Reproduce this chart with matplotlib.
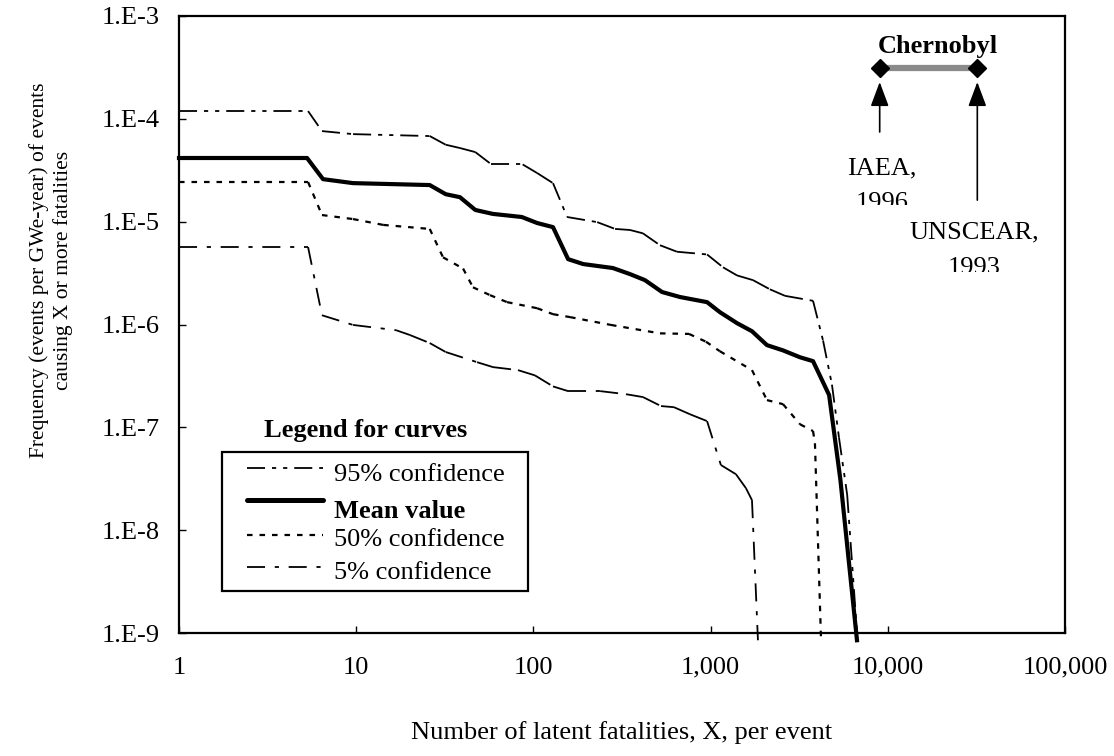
import numpy as np
import matplotlib
matplotlib.use("Agg")
import matplotlib.pyplot as plt
from matplotlib.collections import LineCollection
from matplotlib.lines import Line2D
from matplotlib.patches import Rectangle
from matplotlib.transforms import Bbox, TransformedBbox
from matplotlib.ticker import NullLocator

plt.rcParams['font.family'] = ['Liberation Serif', 'DejaVu Serif']
plt.rcParams['lines.scale_dashes'] = False

# curves: X (fatalities) and frequency per GWe-year
x95 = [1, 5.35, 6.41, 9.6, 26, 32, 38.5, 47, 58, 87, 105, 129, 155, 229, 289, 351,
       415, 518, 646, 955, 1175, 1410, 1735, 2160, 2630, 3785, 4310, 4840, 5300,
       5900, 6750]
y95 = [1.19e-4, 1.19e-4, 7.6e-5, 7.1e-5, 6.8e-5, 5.6e-5, 5.2e-5, 4.75e-5, 3.6e-5,
       3.6e-5, 2.97e-5, 2.37e-5, 1.11e-5, 9.9e-6, 8.5e-6, 8.3e-6, 7.7e-6, 5.9e-6,
       5.1e-6, 4.8e-6, 3.6e-6, 3.0e-6, 2.7e-6, 2.2e-6, 1.9e-6, 1.7e-6, 7.0e-7,
       2.6e-7, 8.0e-8, 2.2e-8, 8.5e-10]

xm = [1, 5.28, 6.5, 9.6, 26, 32, 38.5, 47, 59, 86, 105, 129, 157, 191, 281, 351,
      426, 532, 672, 955, 1127, 1410, 1712, 2080, 2563, 3197, 3785, 4665, 5400, 6700]
ym = [4.16e-5, 4.16e-5, 2.59e-5, 2.37e-5, 2.27e-5, 1.85e-5, 1.73e-5, 1.30e-5,
      1.19e-5, 1.11e-5, 9.7e-6, 8.85e-6, 4.32e-6, 3.87e-6, 3.54e-6, 3.09e-6,
      2.70e-6, 2.07e-6, 1.85e-6, 1.65e-6, 1.32e-6, 1.03e-6, 8.6e-7, 6.3e-7,
      5.6e-7, 4.8e-7, 4.4e-7, 2.06e-7, 3.1e-8, 8.5e-10]

x50 = [1, 5.35, 6.41, 9.6, 14.2, 26, 30.9, 40.1, 45.6, 56.9, 71, 105, 129, 161,
       274, 518, 755, 942, 1127, 1712, 2080, 2563, 3197, 3785, 3880, 4200]
y50 = [2.43e-5, 2.43e-5, 1.16e-5, 1.06e-5, 9.3e-6, 8.5e-6, 4.5e-6, 3.5e-6, 2.3e-6,
       1.93e-6, 1.65e-6, 1.44e-6, 1.26e-6, 1.18e-6, 9.9e-7, 8.2e-7, 8.1e-7, 6.8e-7,
       5.5e-7, 3.6e-7, 1.84e-7, 1.68e-7, 1.07e-7, 9.2e-8, 7.0e-8, 8.5e-10]

x05 = [1, 5.35, 6.41, 9.6, 16.8, 20.1, 26, 32, 48.1, 59.2, 81.9, 102, 129, 157,
       238, 333, 415, 525, 621, 765, 955, 1143, 1390, 1583, 1712, 1850]
y05 = [5.66e-6, 5.66e-6, 1.23e-6, 9.9e-7, 8.8e-7, 7.9e-7, 6.6e-7, 5.4e-7, 4.3e-7,
       3.85e-7, 3.6e-7, 3.2e-7, 2.5e-7, 2.25e-7, 2.25e-7, 2.1e-7, 1.97e-7, 1.61e-7,
       1.57e-7, 1.34e-7, 1.15e-7, 4.3e-8, 3.5e-8, 2.56e-8, 1.96e-8, 8.5e-10]

# Chernobyl estimates (IAEA 1996, UNSCEAR 1993)
chern_x = [9000, 32000]
chern_y = [3.1e-4, 3.1e-4]
arrow_tip = 2.28e-4
arrow_tails = [7.45e-5, 1.62e-5]

xticks = [1, 10, 100, 1e3, 1e4, 1e5]
xlabels = ['1', '10', '100', '1,000', '10,000', '100,000']
yticks = [1e-9, 1e-8, 1e-7, 1e-6, 1e-5, 1e-4, 1e-3]
ylabels = ['1.E-9', '1.E-8', '1.E-7', '1.E-6', '1.E-5', '1.E-4', '1.E-3']

W, H = 1114, 756
fig = plt.figure(figsize=(W / 100, H / 100), dpi=100)
ax = fig.add_axes([179 / W, 1 - 633 / H, 886 / W, 617 / H])
ax.set_xscale('log')
ax.set_yscale('log')
ax.set_xlim(1, 1e5)
ax.set_ylim(1e-9, 1e-3)

ax.set_xticks(xticks)
ax.set_xticklabels(xlabels)
ax.set_yticks(yticks)
ax.set_yticklabels(ylabels)
ax.xaxis.set_minor_locator(NullLocator())
ax.yaxis.set_minor_locator(NullLocator())
ax.tick_params(axis='x', direction='in', length=5, width=1, pad=17, labelsize=19)
ax.tick_params(axis='y', direction='in', length=5, width=1, pad=14, labelsize=19)
for s in ax.spines.values():
    s.set_linewidth(1.6)

sty95 = (0, (13, 5, 3, 5, 3, 5))
sty05 = (0, (13, 7, 3, 7))
sty50 = (0, (4, 5))


def seg_curve(x, y, ls, lw):
    # dash pattern restarts on every segment, like the original drawing
    pts = np.column_stack([x, y])
    segs = np.stack([pts[:-1], pts[1:]], axis=1)
    lc = LineCollection(segs, colors='black', linewidths=lw, linestyles=ls,
                        capstyle='butt', clip_on=False, zorder=3)
    ax.add_collection(lc)


seg_curve(x95, y95, sty95, 1.3)
seg_curve(x50, y50, sty50, 1.6)
seg_curve(x05, y05, sty05, 1.3)
ax.plot(xm, ym, color='black', lw=3.0, solid_joinstyle='round', clip_on=False, zorder=4)

# Chernobyl marker bar and arrows
ax.plot(chern_x, chern_y, color='#8a8a8a', lw=4.5, zorder=4)
ax.plot(chern_x, chern_y, 'D', color='black', ms=9, zorder=5)
for cx, tail in zip(chern_x, arrow_tails):
    ax.annotate('', xy=(cx, arrow_tip), xytext=(cx, tail),
                arrowprops=dict(arrowstyle='-|>,head_length=0.75,head_width=0.28',
                                color='black', lw=1.2, mutation_scale=20,
                                shrinkA=0, shrinkB=0))


def ftext(px, py, s, clip_bottom=None, **kw):
    t = fig.text(px / W, 1 - py / H, s, ha='center', va='center', **kw)
    if clip_bottom is not None:
        t.set_clip_box(TransformedBbox(Bbox.from_extents(0, 1 - clip_bottom / H, 1, 1),
                                       fig.transFigure))
        t.set_clip_on(True)
    return t


ftext(938, 46, 'Chernobyl', fontsize=19, fontweight='bold')
ftext(882, 168, 'IAEA,', fontsize=19)
ftext(882, 203, '1996', clip_bottom=205, fontsize=19)
ftext(974, 232, 'UNSCEAR,', fontsize=19)
ftext(974, 268, '1993', clip_bottom=272, fontsize=19)

# legend box drawn by hand
def axf(px, py):
    return ((px - 179) / 886, (633 - py) / 617)


x0, y0 = axf(222, 591)
x1, y1 = axf(528, 452)
ax.add_patch(Rectangle((x0, y0), x1 - x0, y1 - y0, transform=ax.transAxes,
                       facecolor='white', edgecolor='black', lw=1.6, zorder=6))
tx, ty = axf(366, 430)
ax.text(tx, ty, 'Legend for curves', transform=ax.transAxes, ha='center',
        va='center', fontsize=19, fontweight='bold', zorder=7)

rows = [('95% confidence', sty95, 1.3, 468, 475, 'normal'),
        ('Mean value', '-', 3.6, 500, 511, 'bold'),
        ('50% confidence', sty50, 1.6, 535, 540, 'normal'),
        ('5% confidence', sty05, 1.3, 567, 573, 'normal')]
hx0, _ = axf(247, 0)
hx1, _ = axf(323, 0)
lx, _ = axf(334, 0)
for label, ls, lw, hy, ly, fw in rows:
    _, hyf = axf(0, hy)
    _, lyf = axf(0, ly)
    ax.add_line(Line2D([hx0, hx1], [hyf, hyf], transform=ax.transAxes, color='black',
                       lw=lw, linestyle=ls, solid_capstyle='round', zorder=7))
    ax.text(lx, lyf, label, transform=ax.transAxes, ha='left', va='center',
            fontsize=19, fontweight=fw, zorder=7)

fig.text(622 / W, 1 - 733 / H, 'Number of latent fatalities, X, per event',
         ha='center', va='center', fontsize=19)
fig.text(51 / W, 1 - 270 / H,
         'Frequency (events per GWe-year) of events\ncausing X or more fatalities',
         ha='center', va='center', rotation=90, fontsize=15.5, linespacing=1.3,
         multialignment='center')

fig.savefig('out.png', dpi=100)
